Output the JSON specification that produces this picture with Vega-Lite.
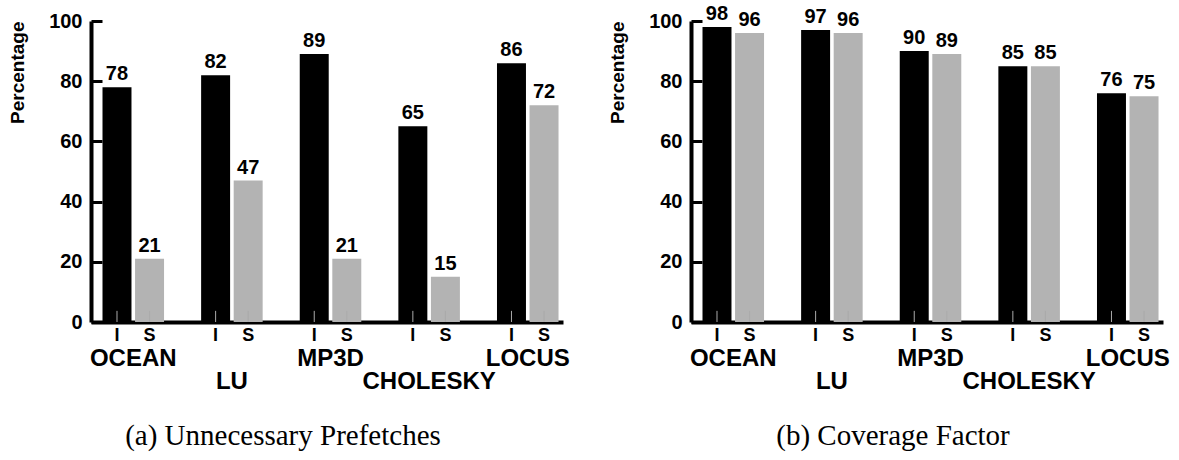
{
  "$schema": "https://vega.github.io/schema/vega-lite/v6.json",
  "background": "white",
  "padding": {"left": 8, "top": 4, "right": 10, "bottom": 5},
  "bounds": "flush",
  "spacing": 128,
  "config": {
    "view": {"stroke": null},
    "font": "Liberation Sans",
    "axis": {"grid": false, "domainColor": "black", "tickColor": "black", "labelColor": "black", "titleColor": "black"},
    "title": {"font": "Liberation Serif", "fontWeight": "normal", "fontSize": 29, "color": "black"}
  },
  "data": {
    "values": [
      {"panel": "a", "bench": "OCEAN", "series": "I", "value": 78},
      {"panel": "a", "bench": "OCEAN", "series": "S", "value": 21},
      {"panel": "a", "bench": "LU", "series": "I", "value": 82},
      {"panel": "a", "bench": "LU", "series": "S", "value": 47},
      {"panel": "a", "bench": "MP3D", "series": "I", "value": 89},
      {"panel": "a", "bench": "MP3D", "series": "S", "value": 21},
      {"panel": "a", "bench": "CHOLESKY", "series": "I", "value": 65},
      {"panel": "a", "bench": "CHOLESKY", "series": "S", "value": 15},
      {"panel": "a", "bench": "LOCUS", "series": "I", "value": 86},
      {"panel": "a", "bench": "LOCUS", "series": "S", "value": 72},
      {"panel": "b", "bench": "OCEAN", "series": "I", "value": 98},
      {"panel": "b", "bench": "OCEAN", "series": "S", "value": 96},
      {"panel": "b", "bench": "LU", "series": "I", "value": 97},
      {"panel": "b", "bench": "LU", "series": "S", "value": 96},
      {"panel": "b", "bench": "MP3D", "series": "I", "value": 90},
      {"panel": "b", "bench": "MP3D", "series": "S", "value": 89},
      {"panel": "b", "bench": "CHOLESKY", "series": "I", "value": 85},
      {"panel": "b", "bench": "CHOLESKY", "series": "S", "value": 85},
      {"panel": "b", "bench": "LOCUS", "series": "I", "value": 76},
      {"panel": "b", "bench": "LOCUS", "series": "S", "value": 75}
    ]
  },
  "hconcat": [
    {
      "width": 472,
      "height": 301,
      "title": {"text": "(a) Unnecessary Prefetches", "orient": "bottom", "anchor": "middle", "offset": 28, "dx": -44},
      "transform": [{"filter": "datum.panel === 'a'"}],
      "encoding": {
        "x": {"field": "bench", "type": "nominal", "sort": ["OCEAN", "LU", "MP3D", "CHOLESKY", "LOCUS"],
              "scale": {"paddingInner": 0.376, "paddingOuter": 0.081, "align": 0.72},
              "axis": {"labels": false, "ticks": false, "title": null, "domainWidth": 4}}
      },
      "layer": [
        {
          "mark": {"type": "bar"},
          "encoding": {
            "xOffset": {"field": "series", "type": "nominal", "sort": ["I", "S"], "scale": {"paddingInner": 0.11, "paddingOuter": 0}},
            "y": {"field": "value", "type": "quantitative", "scale": {"domain": [0, 100]},
                  "axis": {"values": [0, 20, 40, 60, 80, 100], "tickSize": -11, "tickWidth": 3, "domainWidth": 4,
                           "labelFontSize": 20, "labelFontWeight": "bold", "labelPadding": 20,
                           "title": "Percentage", "titleFontSize": 19, "titleFontWeight": "bold", "titleAnchor": "end", "titlePadding": 21}},
            "color": {"field": "series", "type": "nominal", "scale": {"domain": ["I", "S"], "range": ["#000000", "#b3b3b3"]}, "legend": null}
          }
        },
        {
          "mark": {"type": "rule", "color": "#aaaaaa", "strokeWidth": 1},
          "encoding": {
            "xOffset": {"field": "series", "type": "nominal", "sort": ["I", "S"]},
            "y": {"datum": 0}, "y2": {"datum": 3.7}
          }
        },
        {
          "mark": {"type": "text", "baseline": "bottom", "dy": -3, "fontSize": 20, "fontWeight": "bold", "color": "black"},
          "encoding": {
            "xOffset": {"field": "series", "type": "nominal", "sort": ["I", "S"]},
            "y": {"field": "value", "type": "quantitative"},
            "text": {"field": "value"}
          }
        },
        {
          "mark": {"type": "text", "baseline": "alphabetic", "dy": 18.5, "fontSize": 18, "fontWeight": "bold", "color": "black"},
          "encoding": {
            "xOffset": {"field": "series", "type": "nominal", "sort": ["I", "S"]},
            "y": {"datum": 0},
            "text": {"field": "series"}
          }
        },
        {
          "transform": [{"filter": "datum.series === 'I'"}, {"filter": {"field": "bench", "oneOf": ["OCEAN", "MP3D", "LOCUS"]}}],
          "mark": {"type": "text", "baseline": "alphabetic", "dy": 43.5, "fontSize": 24, "fontWeight": "bold", "color": "black"},
          "encoding": {"y": {"datum": 0}, "text": {"field": "bench"}}
        },
        {
          "transform": [{"filter": "datum.series === 'I'"}, {"filter": {"field": "bench", "oneOf": ["LU", "CHOLESKY"]}}],
          "mark": {"type": "text", "baseline": "alphabetic", "dy": 66.5, "fontSize": 24, "fontWeight": "bold", "color": "black"},
          "encoding": {"y": {"datum": 0}, "text": {"field": "bench"}}
        }
      ]
    },
    {
      "width": 472,
      "height": 301,
      "title": {"text": "(b) Coverage Factor", "orient": "bottom", "anchor": "middle", "offset": 28, "dx": -34},
      "transform": [{"filter": "datum.panel === 'b'"}],
      "encoding": {
        "x": {"field": "bench", "type": "nominal", "sort": ["OCEAN", "LU", "MP3D", "CHOLESKY", "LOCUS"],
              "scale": {"paddingInner": 0.376, "paddingOuter": 0.081, "align": 0.72},
              "axis": {"labels": false, "ticks": false, "title": null, "domainWidth": 4}}
      },
      "layer": [
        {
          "mark": {"type": "bar"},
          "encoding": {
            "xOffset": {"field": "series", "type": "nominal", "sort": ["I", "S"], "scale": {"paddingInner": 0.11, "paddingOuter": 0}},
            "y": {"field": "value", "type": "quantitative", "scale": {"domain": [0, 100]},
                  "axis": {"values": [0, 20, 40, 60, 80, 100], "tickSize": -11, "tickWidth": 3, "domainWidth": 4,
                           "labelFontSize": 20, "labelFontWeight": "bold", "labelPadding": 20,
                           "title": "Percentage", "titleFontSize": 19, "titleFontWeight": "bold", "titleAnchor": "end", "titlePadding": 21}},
            "color": {"field": "series", "type": "nominal", "scale": {"domain": ["I", "S"], "range": ["#000000", "#b3b3b3"]}, "legend": null}
          }
        },
        {
          "mark": {"type": "rule", "color": "#aaaaaa", "strokeWidth": 1},
          "encoding": {
            "xOffset": {"field": "series", "type": "nominal", "sort": ["I", "S"]},
            "y": {"datum": 0}, "y2": {"datum": 3.7}
          }
        },
        {
          "mark": {"type": "text", "baseline": "bottom", "dy": -3, "fontSize": 20, "fontWeight": "bold", "color": "black"},
          "encoding": {
            "xOffset": {"field": "series", "type": "nominal", "sort": ["I", "S"]},
            "y": {"field": "value", "type": "quantitative"},
            "text": {"field": "value"}
          }
        },
        {
          "mark": {"type": "text", "baseline": "alphabetic", "dy": 18.5, "fontSize": 18, "fontWeight": "bold", "color": "black"},
          "encoding": {
            "xOffset": {"field": "series", "type": "nominal", "sort": ["I", "S"]},
            "y": {"datum": 0},
            "text": {"field": "series"}
          }
        },
        {
          "transform": [{"filter": "datum.series === 'I'"}, {"filter": {"field": "bench", "oneOf": ["OCEAN", "MP3D", "LOCUS"]}}],
          "mark": {"type": "text", "baseline": "alphabetic", "dy": 43.5, "fontSize": 24, "fontWeight": "bold", "color": "black"},
          "encoding": {"y": {"datum": 0}, "text": {"field": "bench"}}
        },
        {
          "transform": [{"filter": "datum.series === 'I'"}, {"filter": {"field": "bench", "oneOf": ["LU", "CHOLESKY"]}}],
          "mark": {"type": "text", "baseline": "alphabetic", "dy": 66.5, "fontSize": 24, "fontWeight": "bold", "color": "black"},
          "encoding": {"y": {"datum": 0}, "text": {"field": "bench"}}
        }
      ]
    }
  ]
}
